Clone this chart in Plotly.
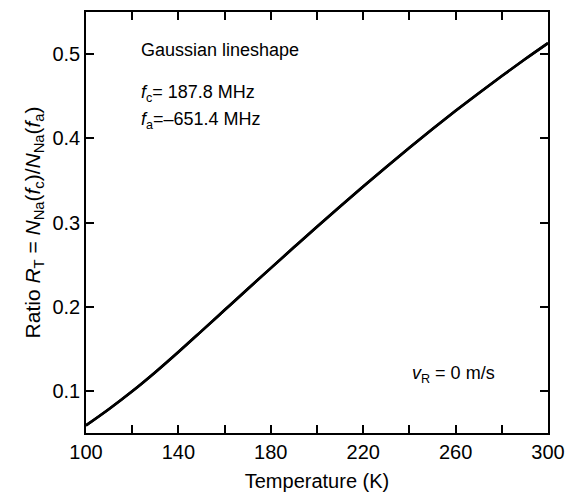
import plotly.graph_objects as go

# Temperature grid (K) and the Na population ratio R_T
temperature_K = [100, 110, 120, 130, 140, 150, 160, 170, 180, 190, 200,
                 210, 220, 230, 240, 250, 260, 270, 280, 290, 300]
ratio_RT = [0.059, 0.0785, 0.0995, 0.1222, 0.1462, 0.1710, 0.1960, 0.2210, 0.2458, 0.2705, 0.2950,
            0.3190, 0.3427, 0.3660, 0.3888, 0.4110, 0.4326, 0.4536, 0.4740, 0.4938, 0.513]

x_label_ticks = [100, 140, 180, 220, 260, 300]
x_mark_ticks = [100, 120, 140, 160, 180, 200, 220, 240, 260, 280, 300]
y_ticks = [0.1, 0.2, 0.3, 0.4, 0.5]
x_range = [100, 300]
y_range = [0.05, 0.55]

FONT = "Liberation Sans, Arial, Helvetica, sans-serif"

curve_line = dict(color="black", width=2.6, shape="spline", smoothing=1.0)

fig = go.Figure()
# the curve on the labelled axes
fig.add_trace(go.Scatter(x=temperature_K, y=ratio_RT, mode="lines", line=curve_line,
                         showlegend=False, hoverinfo="skip"))
# the same curve on the overlaid tick-mark axes, so that subplot is laid out
fig.add_trace(go.Scatter(x=temperature_K, y=ratio_RT, mode="lines", line=curve_line,
                         xaxis="x2", yaxis="y2", showlegend=False, hoverinfo="skip"))

frame = dict(showgrid=False, zeroline=False, showline=True, linecolor="black", linewidth=1.6)

# primary axes: frame and tick labels
fig.update_layout(
    xaxis=dict(
        range=x_range, tickmode="array", tickvals=x_label_ticks,
        ticktext=[str(v) for v in x_label_ticks], ticks="", mirror=True, **frame,
        tickfont=dict(family=FONT, size=20, color="black"),
        title=dict(text="Temperature (K)", font=dict(family=FONT, size=20, color="black"), standoff=12),
    ),
    yaxis=dict(
        range=y_range, tickmode="array", tickvals=y_ticks,
        ticktext=[f"{v:.1f}" for v in y_ticks], ticks="", mirror=True, **frame,
        tickfont=dict(family=FONT, size=20, color="black"),
        title=dict(
            text="Ratio <i>R</i><sub>T</sub> = <i>N</i><sub>Na</sub>(<i>f</i><sub>c</sub>)/<i>N</i><sub>Na</sub>(<i>f</i><sub>a</sub>)",
            font=dict(family=FONT, size=21, color="black"), standoff=6,
        ),
    ),
)

# overlaid axes carrying the inward tick marks on all four sides
tick_marks = dict(ticks="inside", ticklen=8, tickwidth=1.6, tickcolor="black",
                  mirror="allticks", tickmode="array", **frame)
fig.update_layout(
    xaxis2=dict(overlaying="x", anchor="y2", side="bottom", range=x_range,
                tickvals=x_mark_ticks, ticktext=["" for _ in x_mark_ticks], **tick_marks),
    yaxis2=dict(overlaying="y", anchor="x2", side="left", range=y_range,
                tickvals=y_ticks, ticktext=["" for _ in y_ticks], **tick_marks),
)

text_font = dict(family=FONT, size=18, color="black")
notes = [
    (122.9, 0.505, "Gaussian lineshape"),
    (122.9, 0.4535, "<i>f</i><sub>c</sub>= 187.8 MHz"),
    (122.9, 0.421, "<i>f</i><sub>a</sub>=\u2013651.4 MHz"),
    (240.2, 0.119, "<i>v</i><sub>R</sub> = 0 m/s"),
]
for x, y, txt in notes:
    fig.add_annotation(x=x, y=y, text=txt, showarrow=False, xanchor="left", yanchor="middle",
                       font=text_font)

fig.update_layout(
    width=575, height=499,
    margin=dict(l=86, r=18, t=10, b=63),
    paper_bgcolor="white", plot_bgcolor="white",
)

fig.write_html("out.html")
